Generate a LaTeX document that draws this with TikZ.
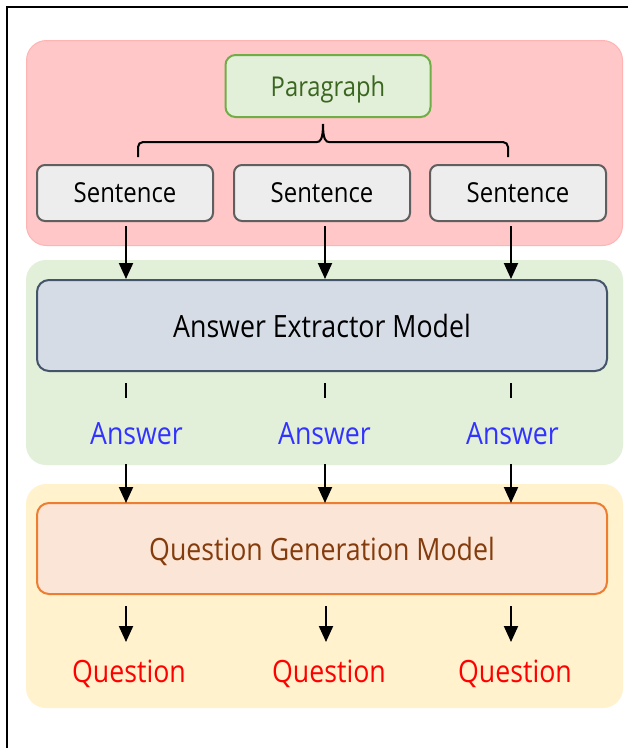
\documentclass[tikz,border=0pt]{standalone}
\usepackage{fontspec}
\setmainfont{Open Sans}[FakeStretch=0.87]
\usetikzlibrary{arrows.meta}
\definecolor{redgrp}{HTML}{FFC7C7}
\definecolor{redgrpb}{HTML}{FFB3B3}
\definecolor{greengrp}{HTML}{E2EFD9}
\definecolor{yellowgrp}{HTML}{FFF2CC}
\definecolor{parafill}{HTML}{E2F0D9}
\definecolor{parab}{HTML}{70AD47}
\definecolor{paratext}{HTML}{3B6620}
\definecolor{sentfill}{HTML}{EDEDED}
\definecolor{sentb}{HTML}{5F5F5F}
\definecolor{aemfill}{HTML}{D6DCE5}
\definecolor{aemb}{HTML}{44546A}
\definecolor{qgmfill}{HTML}{FBE5D6}
\definecolor{qgmb}{HTML}{ED7D31}
\definecolor{qgmtext}{HTML}{843C0C}
\definecolor{anstext}{HTML}{3333FF}
\definecolor{qtext}{HTML}{FF0000}
\tikzset{
  every node/.style={text depth=0pt},
  grp/.style={rounded corners=20pt, line width=1pt},
  sentbox/.style={draw=sentb, fill=sentfill, line width=2pt, rounded corners=8pt,
    minimum width=176pt, minimum height=56pt, inner sep=0pt,
    font=\fontsize{27.5}{32}\selectfont},
  bigbox/.style={line width=2pt, rounded corners=12pt,
    minimum width=570pt, minimum height=91pt, inner sep=0pt},
  lbl/.style={inner sep=0pt, font=\fontsize{30.7}{34}\selectfont},
  arr/.style={line width=2pt, -{Triangle[width=14pt,length=16pt]}},
  tick/.style={line width=2pt},
}
\begin{document}
\begin{tikzpicture}[x=1pt,y=-1pt]
\useasboundingbox (0,0) rectangle (628,748);
\fill[white] (0,0) rectangle (628,748);
% frame
\draw[line width=2pt] (7,748) -- (7,7) -- (628,7);
% groups
\draw[grp, fill=redgrp, draw=redgrpb] (26.5,40.5) rectangle (622.5,245.5);
\fill[grp, fill=greengrp] (26,260) rectangle (623,465);
\fill[grp, fill=yellowgrp] (26,484) rectangle (623,708);
% paragraph
\node[draw=parab, fill=parafill, line width=2pt, rounded corners=10pt,
  minimum width=205pt, minimum height=62pt, inner sep=0pt,
  text=paratext, font=\fontsize{27.3}{32}\selectfont] (para) at (328,86) {Paragraph};
% sentences
\node[sentbox] (s1) at (125,193) {Sentence};
\node[sentbox] (s2) at (322,193) {Sentence};
\node[sentbox] (s3) at (518,193) {Sentence};
% brace
\coordinate (bl) at (138,157);
\coordinate (br) at (508,157);
\coordinate (bc) at (323,124);
\draw[line width=2pt, rounded corners=5pt] (bl) -- (138,142) -- (312,142)
  .. controls (320,142) and (323,140) .. (bc);
\draw[line width=2pt, rounded corners=5pt] (br) -- (508,142) -- (334,142)
  .. controls (326,142) and (323,140) .. (bc);
% answer extractor
\node[bigbox, draw=aemb, fill=aemfill, font=\fontsize{30.7}{34}\selectfont] (aem) at (322,325.5) {Answer Extractor Model};
% arrows sentence -> aem
\coordinate (t1) at (126,279);
\coordinate (t2) at (325,279);
\coordinate (t3) at (511,279);
\draw[arr] (126,226) -- (t1);
\draw[arr] (325,226) -- (t2);
\draw[arr] (511,226) -- (t3);
% ticks
\coordinate (k1) at (126,383);
\coordinate (k2) at (325,383);
\coordinate (k3) at (511,383);
\draw[tick] (k1) -- ++(0,15);
\draw[tick] (k2) -- ++(0,15);
\draw[tick] (k3) -- ++(0,15);
% answers
\node[lbl, text=anstext] (a1) at (136.5,433) {Answer};
\node[lbl, text=anstext] (a2) at (324.5,433) {Answer};
\node[lbl, text=anstext] (a3) at (512.5,433) {Answer};
% qgm
\node[bigbox, draw=qgmb, fill=qgmfill, text=qgmtext, font=\fontsize{30.7}{34}\selectfont] (qgm) at (322,548.5) {Question Generation Model};
\draw[arr] (126,464) -- (126,503);
\draw[arr] (325,464) -- (325,503);
\draw[arr] (511,464) -- (511,503);
% questions
\draw[arr] (126,606) -- (126,642);
\draw[arr] (326,606) -- (326,642);
\draw[arr] (511,606) -- (511,642);
\node[lbl, text=qtext] (q1) at (129,671) {Question};
\node[lbl, text=qtext] (q2) at (329,671) {Question};
\node[lbl, text=qtext] (q3) at (515,671) {Question};
\end{tikzpicture}
\end{document}
